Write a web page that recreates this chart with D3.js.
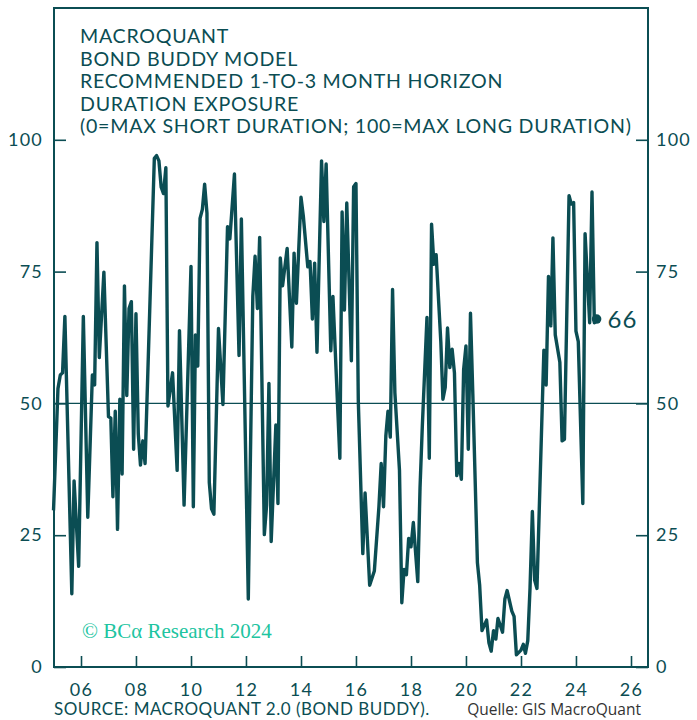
<!DOCTYPE html>
<html>
<head>
<meta charset="utf-8">
<script src="https://cdn.jsdelivr.net/npm/d3@7"></script>
<style>
  body { margin: 0; background: #fff; }
  svg { display: block; font-family: Lato, 'Open Sans', sans-serif; }
</style>
</head>
<body>
<svg id="chart" width="697" height="720"></svg>
<script>
// chart text
var titleLines = [
  'MACROQUANT',
  'BOND BUDDY MODEL',
  'RECOMMENDED 1-TO-3 MONTH HORIZON',
  'DURATION EXPOSURE',
  '(0=MAX SHORT DURATION; 100=MAX LONG DURATION)'
];
var sourceText = 'SOURCE: MACROQUANT 2.0 (BOND BUDDY).';
var quelleText = 'Quelle: GIS MacroQuant';
var copyrightText = '\u00a9 BC\u03b1 Research 2024';

// axis ticks
var yTicks = [0, 25, 50, 75, 100];
var xTickYears = [2006, 2008, 2010, 2012, 2014, 2016, 2018, 2020, 2022, 2024, 2026];

// series (month, exposure score)
var months = [
  '2005-01', '2005-03', '2005-04', '2005-05', '2005-06', '2005-09', '2005-10', '2005-12',
  '2006-02', '2006-04', '2006-06', '2006-07', '2006-08', '2006-09', '2006-11',
  '2007-01', '2007-02', '2007-03', '2007-04', '2007-05', '2007-06', '2007-07', '2007-08',
  '2007-09', '2007-10', '2007-11', '2007-12',
  '2008-01', '2008-02', '2008-03', '2008-04', '2008-05', '2008-09', '2008-10', '2008-11', '2008-12',
  '2009-01', '2009-02', '2009-03', '2009-05', '2009-07', '2009-08', '2009-10',
  '2010-01', '2010-02', '2010-03', '2010-04', '2010-05', '2010-06', '2010-07', '2010-08',
  '2010-09', '2010-10', '2010-11',
  '2011-01', '2011-03', '2011-05', '2011-06', '2011-08', '2011-10', '2011-11',
  '2012-02', '2012-04', '2012-05', '2012-06', '2012-07', '2012-09', '2012-10', '2012-11', '2012-12',
  '2013-02', '2013-03', '2013-04', '2013-05', '2013-07', '2013-09', '2013-10', '2013-11',
  '2014-01', '2014-02', '2014-04', '2014-05', '2014-06', '2014-07', '2014-08', '2014-10',
  '2014-11', '2014-12',
  '2015-02', '2015-03', '2015-06', '2015-07', '2015-08', '2015-09', '2015-11', '2015-12',
  '2016-01', '2016-02', '2016-04', '2016-05', '2016-07', '2016-09', '2016-11', '2016-12',
  '2017-01', '2017-02', '2017-03', '2017-04', '2017-05', '2017-06', '2017-08', '2017-09',
  '2017-10', '2017-11', '2017-12',
  '2018-01', '2018-02', '2018-04', '2018-05', '2018-06', '2018-08', '2018-09', '2018-10',
  '2018-11', '2018-12',
  '2019-02', '2019-03', '2019-04', '2019-05', '2019-06', '2019-07', '2019-08', '2019-09',
  '2019-10', '2019-11', '2019-12',
  '2020-01', '2020-02', '2020-03', '2020-04', '2020-06', '2020-07', '2020-08', '2020-10',
  '2020-11', '2020-12',
  '2021-01', '2021-02', '2021-03', '2021-05', '2021-06', '2021-07', '2021-09', '2021-10', '2021-11',
  '2022-01', '2022-02', '2022-03', '2022-04', '2022-05', '2022-06', '2022-07', '2022-08', '2022-11',
  '2022-12',
  '2023-01', '2023-02', '2023-03', '2023-04', '2023-06', '2023-07', '2023-08', '2023-10',
  '2023-11', '2023-12',
  '2024-01', '2024-02', '2024-04', '2024-05', '2024-07', '2024-08', '2024-09', '2024-10'
];
var exposure = [
  29.7, 52.8, 55.4, 55.8, 66.5, 13.9, 35.3, 19.1,
  66.5, 28.4, 55.4, 53.5, 80.5, 58.7, 74.9,
  47.5, 47.2, 32.3, 48.5, 26.1, 50.8, 36.6, 72.3,
  51.5, 68, 69.3, 41.3,
  67, 44.2, 38.3, 42.9, 38.6, 96.5, 97, 96, 91,
  89.8, 94.7, 49.5, 55.8, 37.3, 63.8, 30.7,
  76, 30.4, 63, 57.1, 85.1, 86.8, 91.6, 86.1,
  35, 30, 29,
  64.2, 49.8, 83.5, 81.2, 93.5, 59.1, 85,
  12.9, 70.3, 77.9, 68, 81.5, 25.1, 30.7, 53.8, 23.8,
  45.9, 31, 77.6, 72.3, 79.4, 60.7, 78.5, 69,
  89.1, 85.5, 75.9, 76.9, 66, 76.6, 59.7, 96,
  84.5, 95.4,
  60, 70.3, 39.6, 86.3, 67.7, 88, 58.1, 91.1,
  91.7, 50.5, 21.5, 33, 15.5, 18.2, 30.4, 38.6,
  30.4, 43.9, 48.5, 43.6, 71.6, 52, 37.3, 12.2,
  18.5, 17.5, 24.4,
  22.8, 27.4, 16.2, 34, 45.9, 66.3, 39.6, 84,
  76.4, 78.2,
  61.7, 50.8, 53.1, 64.3, 56.8, 60.3, 55.8, 36.3,
  38.6, 35.6, 56.4,
  60.9, 41.3, 67.1, 51.8, 19.8, 15.5, 6.9, 8.9,
  4.6, 3,
  6.9, 5.3, 9.2, 6.6, 12.9, 14.5, 10.6, 9.6, 2.3,
  3.2, 4.3, 2.6, 5, 15, 29.5, 16.5, 14.9, 60.1,
  53.5,
  74.1, 64.7, 81.4, 63, 57.8, 42.9, 43.2, 89.4,
  87.8, 88.1,
  63.7, 61.7, 31, 82.2, 65.3, 90.1, 65.3, 66
];

var ink = '#0b4d53';
var frame = {left: 54, right: 648, top: 8, bottom: 667};

var svg = d3.select('#chart');
var parseMonth = d3.utcParse('%Y-%m');

var data = months.map(function(m, i) {
  return {date: parseMonth(m), value: exposure[i]};
});

// 2006 and 2026 tick marks sit at fixed pixels; the frame runs a little past both
var x = d3.scaleUtc()
    .domain([new Date(Date.UTC(2006, 0, 1)), new Date(Date.UTC(2026, 0, 1))])
    .range([81, 631]);
var y = d3.scaleLinear()
    .domain([0, 125])
    .range([frame.bottom, frame.top]);

// frame
svg.append('rect')
    .attr('x', frame.left)
    .attr('y', frame.top)
    .attr('width', frame.right - frame.left)
    .attr('height', frame.bottom - frame.top)
    .attr('fill', 'none')
    .attr('stroke', ink)
    .attr('stroke-width', 2);

// 50 line
svg.append('line')
    .attr('x1', frame.left)
    .attr('x2', frame.right)
    .attr('y1', y(50))
    .attr('y2', y(50))
    .attr('stroke', ink)
    .attr('stroke-width', 1.3);

function styleAxis(g) {
  g.select('.domain').remove();
  g.selectAll('.tick line').attr('stroke', ink).attr('stroke-width', 1.6);
  g.selectAll('.tick text')
      .attr('fill', ink)
      .style('font-size', '18px')
      .style('font-family', 'Lato, sans-serif')
      .style('letter-spacing', '1.2px');
}

svg.append('g')
    .attr('transform', 'translate(' + frame.left + ',0)')
    .call(d3.axisLeft(y).tickValues(yTicks).tickSize(-12).tickPadding(11))
    .call(styleAxis);

svg.append('g')
    .attr('transform', 'translate(' + frame.right + ',0)')
    .call(d3.axisRight(y).tickValues(yTicks).tickSize(-12).tickPadding(8))
    .call(styleAxis);

svg.append('g')
    .attr('transform', 'translate(0,' + frame.bottom + ')')
    .call(d3.axisBottom(x)
        .tickValues(xTickYears.map(function(yr) { return new Date(Date.UTC(yr, 0, 1)); }))
        .tickFormat(d3.utcFormat('%y'))
        .tickSize(-11)
        .tickPadding(16))
    .call(styleAxis);

// series line
var line = d3.line()
    .x(function(d) { return x(d.date); })
    .y(function(d) { return y(d.value); });

svg.append('path')
    .datum(data)
    .attr('fill', 'none')
    .attr('stroke', ink)
    .attr('stroke-width', 3.4)
    .attr('stroke-linejoin', 'round')
    .attr('d', line);

// last value marker
var last = data[data.length - 1];
svg.append('circle')
    .attr('cx', x(last.date))
    .attr('cy', y(last.value))
    .attr('r', 4.8)
    .attr('fill', ink);
svg.append('text')
    .attr('x', x(last.date) + 11)
    .attr('y', y(last.value) + 8.5)
    .attr('fill', ink)
    .style('font-size', '24px')
    .style('letter-spacing', '1px')
    .text(d3.format('d')(last.value));

// title
svg.append('g').selectAll('text')
    .data(titleLines)
    .enter().append('text')
    .attr('x', 80)
    .attr('y', function(d, i) { return 43 + i * 22.5; })
    .attr('fill', ink)
    .style('font-size', '19.6px')
    .style('letter-spacing', '0.75px')
    .text(function(d) { return d; });

// watermark
svg.append('text')
    .attr('x', 82)
    .attr('y', 638)
    .attr('fill', '#20c4a0')
    .style('font-family', "'Liberation Serif', serif")
    .style('font-size', '21px')
    .text(copyrightText);

// footer
svg.append('text')
    .attr('x', 54)
    .attr('y', 715)
    .attr('fill', ink)
    .style('font-size', '17px')
    .style('letter-spacing', '0.5px')
    .text(sourceText);
svg.append('text')
    .attr('x', 641)
    .attr('y', 715)
    .attr('text-anchor', 'end')
    .attr('fill', '#333')
    .style('font-family', "'Open Sans', sans-serif")
    .style('font-size', '15.5px')
    .text(quelleText);
</script>
</body>
</html>
